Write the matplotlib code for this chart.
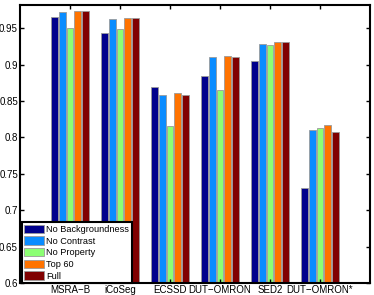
import numpy as np
import matplotlib
matplotlib.use("Agg")
import matplotlib.pyplot as plt

plt.rcParams['font.family'] = ['Liberation Sans', 'DejaVu Sans']

datasets = ['MSRA\u2212B', 'iCoSeg', 'ECSSD', 'DUT\u2212OMRON', 'SED2', 'DUT\u2212OMRON*']
variants = ['No Backgroundness', 'No Contrast', 'No Property', 'Top 60', 'Full']
colors = ['#00008C', '#0A8CFF', '#8CFF73', '#FF7300', '#800000']

no_bg = [0.965, 0.943, 0.869, 0.885, 0.905, 0.730]
no_contrast = [0.973, 0.963, 0.859, 0.911, 0.929, 0.810]
no_property = [0.951, 0.949, 0.816, 0.865, 0.927, 0.813]
top60 = [0.974, 0.964, 0.861, 0.912, 0.931, 0.817]
full = [0.974, 0.964, 0.859, 0.910, 0.931, 0.807]
series = [no_bg, no_contrast, no_property, top60, full]

fig = plt.figure(figsize=(3.74, 2.95), dpi=100)
ax = fig.add_axes([20/374, 12/295, 350/374, 278/295])

x = np.arange(1, len(datasets) + 1)
w = 0.152
for i, (vals, c, lab) in enumerate(zip(series, colors, variants)):
    ax.bar(x + (i - 2) * w, vals, width=w * 0.92, color=c, edgecolor='#9a9a9a',
           linewidth=0.6, label=lab)

ax.set_xlim(0, 7)
ax.set_ylim(0.6, 0.982)
ax.set_xticks(x)
ax.set_xticklabels(datasets, fontsize=7)
ax.set_yticks([0.6, 0.65, 0.7, 0.75, 0.8, 0.85, 0.9, 0.95])
ax.set_yticklabels(['0.6', '0.65', '0.7', '0.75', '0.8', '0.85', '0.9', '0.95'], fontsize=7)
ax.tick_params(direction='in', top=True, right=True, length=3, width=1, pad=1.5)
for s in ax.spines.values():
    s.set_linewidth(1.5)

leg = ax.legend(loc='lower left', bbox_to_anchor=(0.005, 0.0), borderaxespad=0,
                fontsize=6.6, fancybox=False, framealpha=1, edgecolor='black',
                handlelength=2.2, handleheight=1.05, handletextpad=0.25,
                labelspacing=0.25, borderpad=0.25)
leg.get_frame().set_linewidth(1.5)

fig.savefig('out.png', dpi=100)
